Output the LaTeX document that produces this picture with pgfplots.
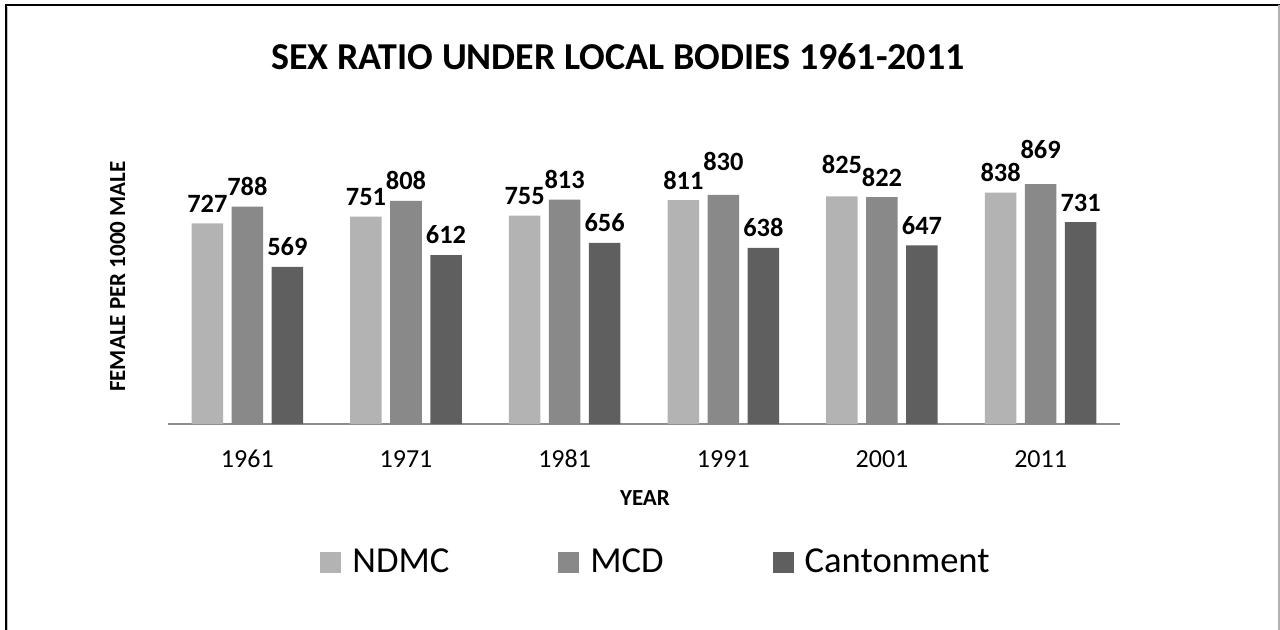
\documentclass[border=0pt]{standalone}
\usepackage{fontspec}
\setmainfont{Carlito}
\usepackage{pgfplots}
\usepackage{pgfplotstable}
\pgfplotsset{compat=1.18}
\definecolor{cNDMC}{HTML}{B3B3B3}
\definecolor{cMCD}{HTML}{898989}
\definecolor{cCant}{HTML}{5F5F5F}
\definecolor{axgray}{HTML}{8C8C8C}
% x: 0=1961 ... 5=2011 ; *off = label lift in pt above the bar top
\pgfplotstableread{
x ndmc ndmcoff mcd mcdoff cant cantoff
0 727 5.25 788 5.25 569 5.25
1 751 5.25 808 5.25 612 5.25
2 755 5.25 813 5.25 656 5.25
3 811 5.25 830 11.75 638 5.25
4 825 11.25 822 5.25 647 5.25
5 838 5.25 869 12.75 731 5.25
}\datatable
\begin{document}
\begin{tikzpicture}
\useasboundingbox (0pt,0pt) rectangle (640pt,-315pt);
\draw[black, line width=1pt] (2.75pt,-316pt) -- (2.75pt,-2.75pt) -- (640pt,-2.75pt);
\draw[black!25, line width=0.5pt] (3.6pt,-316pt) -- (3.6pt,-3.4pt);
\draw[black!30, line width=0.8pt] (639.6pt,-2.75pt) -- (639.6pt,-316pt);
\node[font=\bfseries\fontsize{19}{19}\selectfont, anchor=center] at (309pt,-28.5pt) {SEX RATIO UNDER LOCAL BODIES 1961-2011};
\begin{axis}[
  at={(84pt,-212pt)}, anchor=south west,
  scale only axis, width=476pt, height=138pt,
  ybar=4.25pt, bar width=15.75pt,
  xmin=-0.5, xmax=5.5, ymin=0, ymax=1000,
  /pgf/number format/assume math mode=true,
  axis x line*=bottom, axis y line*=left,
  x axis line style={draw=axgray, line width=0.75pt},
  y axis line style={draw=none},
  ytick=\empty,
  xtick={0,1,2,3,4,5},
  xticklabels={1961,1971,1981,1991,2001,2011},
  major tick length=0pt,
  xticklabel style={font=\fontsize{13}{13}\selectfont, anchor=base, inner sep=0pt, yshift=-21.5pt},
  xlabel={YEAR},
  xlabel style={at={(axis description cs:0.501,-0.268)}, anchor=center, font=\bfseries\fontsize{11.5}{11.5}\selectfont, inner sep=0pt},
  ylabel={FEMALE PER 1000 MALE},
  ylabel style={at={(axis description cs:-0.053,0.534)}, anchor=center, font=\bfseries\fontsize{11.5}{11.5}\selectfont, inner sep=0pt},
  nodes near coords={\pgfmathprintnumber[assume math mode=true]{\pgfplotspointmeta}},
  nodes near coords style={font=\bfseries\fontsize{13.2}{13.2}\selectfont, text=black, anchor=south, inner sep=0pt, yshift=\lift pt},
  legend columns=3,
  legend style={draw=none, fill=none, inner sep=0pt, outer sep=0pt,
    at={(axis description cs:0.5116,-0.5)}, anchor=center,
    font=\fontsize{18.3}{18.3}\selectfont,
    nodes={inner sep=0pt},
    /tikz/every odd column/.append style={column sep=5.5pt},
    /tikz/every even column/.append style={column sep=54.5pt}},
]
\addplot[fill=cNDMC, draw=none, visualization depends on={\thisrow{ndmcoff}\as\lift},
  legend image code/.code={\fill[cNDMC] (0pt,-5.25pt) rectangle (10.5pt,5.25pt);}]
  table[x=x, y=ndmc] {\datatable};
\addplot[fill=cMCD, draw=none, visualization depends on={\thisrow{mcdoff}\as\lift},
  legend image code/.code={\fill[cMCD] (0pt,-5.25pt) rectangle (10.5pt,5.25pt);}]
  table[x=x, y=mcd] {\datatable};
\addplot[fill=cCant, draw=none, visualization depends on={\thisrow{cantoff}\as\lift},
  legend image code/.code={\fill[cCant] (0pt,-5.25pt) rectangle (10.5pt,5.25pt);}]
  table[x=x, y=cant] {\datatable};
\legend{NDMC, MCD, Cantonment}
\end{axis}
\end{tikzpicture}
\end{document}
